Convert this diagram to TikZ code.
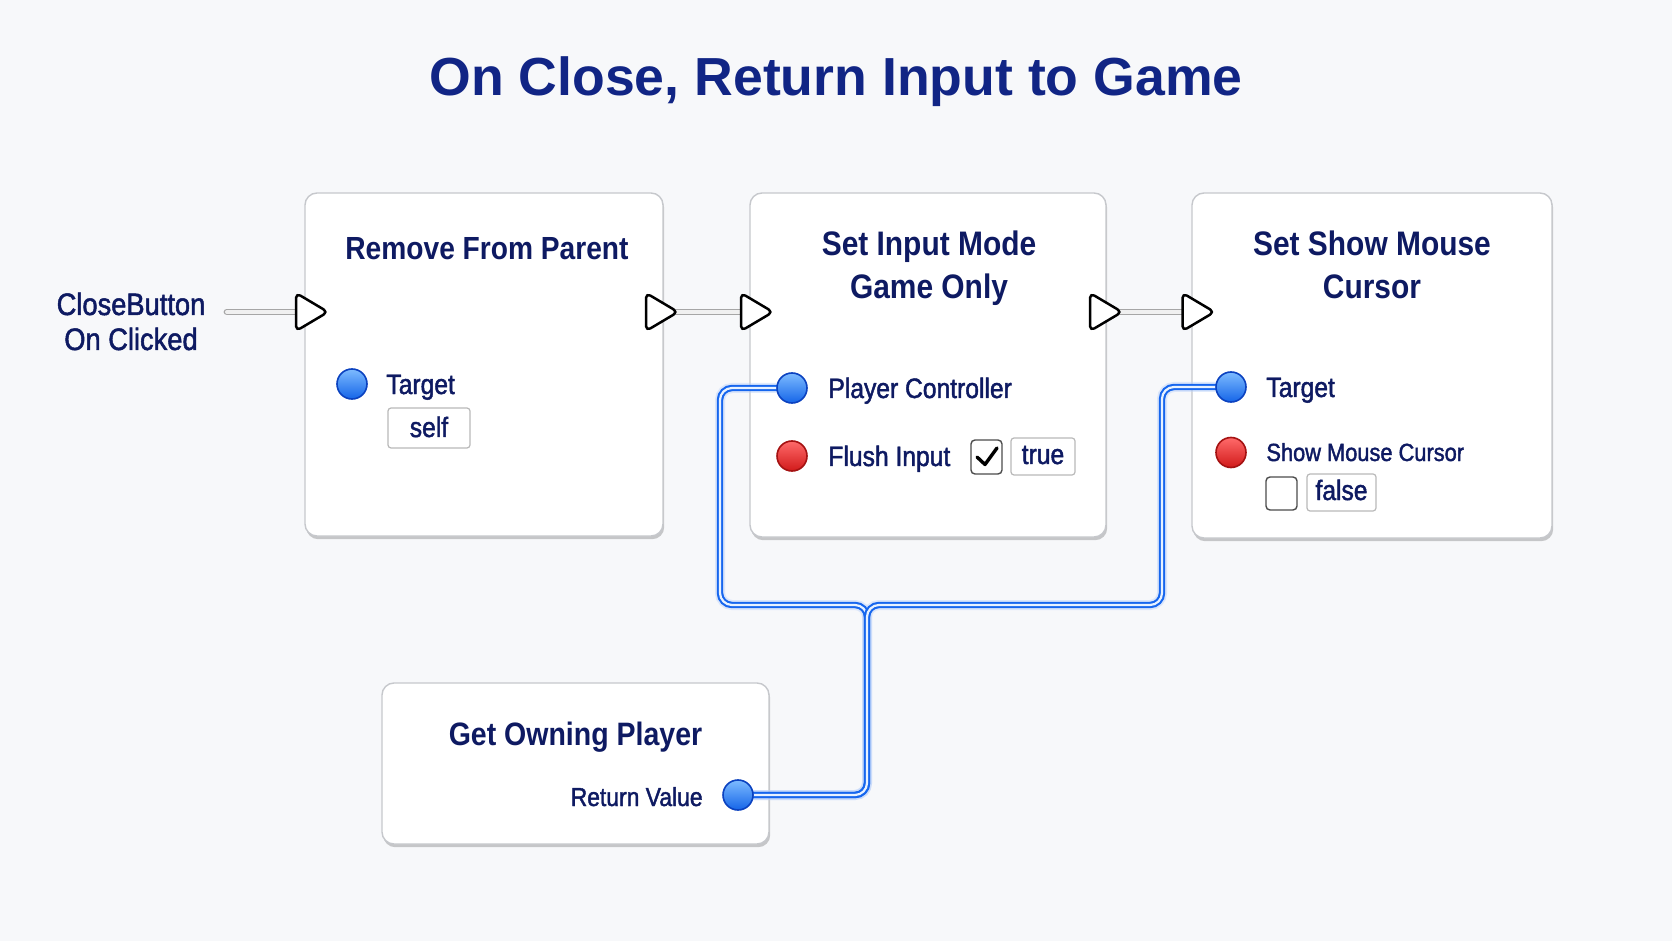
\documentclass[tikz,border=0pt]{standalone}
\usepackage{fontspec}
\setmainfont{Liberation Sans}
\newfontfamily\titlefont{Liberation Sans Bold}
\newfontfamily\hdfont[FakeStretch=0.88]{Liberation Sans Bold}
\newfontfamily\pinfont[FakeStretch=0.88,FakeBold=1.6]{Liberation Sans}
\usetikzlibrary{shadows,calc}
\pgfdeclarelayer{back}
\pgfdeclarelayer{wires}
\pgfsetlayers{back,wires,main}
\definecolor{titleblue}{HTML}{112585}
\definecolor{navy}{HTML}{0E1A62}
\definecolor{wireblue}{HTML}{1666EE}
\definecolor{wirecore}{HTML}{E8F2FF}
\definecolor{bgc}{HTML}{F7F8FA}
\definecolor{boxborder}{HTML}{C6C8CC}
\definecolor{pinbluetop}{HTML}{7DBBFF}
\definecolor{pinbluebot}{HTML}{1565E8}
\definecolor{pinblueedge}{HTML}{0B42C0}
\definecolor{pinredtop}{HTML}{FF6A6A}
\definecolor{pinredbot}{HTML}{D11A1A}
\definecolor{pinrededge}{HTML}{A51212}
\tikzset{
  execpin/.pic={\path[exectri] (-16,-19) -- (16,0) -- (-16,19) -- cycle;},
}
\begin{document}
\begin{tikzpicture}[x=0.5pt,y=-0.5pt,
  box/.style={draw=boxborder, line width=0.7pt, fill=white, rounded corners=6pt,
    drop shadow={shadow xshift=0.6pt, shadow yshift=-1.6pt, opacity=0.2, fill=black}, inner sep=0},
  hd/.style={font=\hdfont\fontsize{15.6}{18}\selectfont, text=navy, inner sep=0, anchor=base},
  hdb/.style={hd, font=\hdfont\fontsize{17}{20}\selectfont},
  pinlab/.style={font=\pinfont\fontsize{14}{17}\selectfont, text=navy, inner sep=0, anchor=base west},
  bluepin/.style={circle, minimum size=15pt, inner sep=0, draw=pinblueedge, line width=0.8pt,
    top color=pinbluetop, bottom color=pinbluebot},
  redpin/.style={circle, minimum size=15pt, inner sep=0, draw=pinrededge, line width=0.8pt,
    top color=pinredtop, bottom color=pinredbot},
  valbox/.style={draw=gray!55, line width=0.6pt, fill=white, rounded corners=1.5pt, inner sep=0},
  chkbox/.style={draw=gray!60!black, line width=0.7pt, fill=white, rounded corners=2pt, inner sep=0},
  execwire/.style={draw=gray!70, line width=0.7pt, double=gray!12, double distance=2pt, line cap=round},
  dataglow/.style={draw=wireblue!30, line width=5pt, opacity=0.45, rounded corners=6pt},
  datawire/.style={draw=wireblue, line width=1.05pt, double=wirecore, double distance=1.1pt, rounded corners=6pt},
  exectri/.style={draw=black, line width=1.25pt, fill=white, rounded corners=2.5pt, line join=round},
  check/.style={draw=black, line width=1.7pt, line cap=round, line join=round},
]
\begin{pgfonlayer}{back}
\fill[bgc] (0,0) rectangle (1672,941);
\node[box, minimum width=179pt, minimum height=171.5pt] (b1) at (484,364.5) {};
\node[box, minimum width=178pt, minimum height=172pt] (b2) at (928,365) {};
\node[box, minimum width=180pt, minimum height=172.5pt] (b3) at (1372,365.5) {};
\node[box, minimum width=193.5pt, minimum height=80.5pt] (b4) at (575.5,763.5) {};
\end{pgfonlayer}
\useasboundingbox (0,0) rectangle (1672,941);

% title
\node[font=\titlefont\fontsize{26.8}{32}\selectfont, text=titleblue, anchor=base, inner sep=0] (title) at (836,96) {On Close, Return Input to Game};

% event label
\node[font=\pinfont\fontsize{15.5}{18}\selectfont, text=navy, anchor=base, inner sep=0] (cbl1) at (131,315) {CloseButton};
\node[font=\pinfont\fontsize{15.5}{18}\selectfont, text=navy, anchor=base, inner sep=0] (cbl2) at (131,350) {On Clicked};

% headers
\node[hd, font=\hdfont\fontsize{16}{19}\selectfont] (h1) at (487,260) {Remove From Parent};
\node[hdb] (h2a) at (929,256) {Set Input Mode};
\node[hdb] (h2b) at (929,299) {Game Only};
\node[hdb] (h3a) at (1372,256) {Set Show Mouse};
\node[hdb] (h3b) at (1372,299) {Cursor};
\node[hd, font=\hdfont\fontsize{16.2}{19}\selectfont] (h4) at (575.5,745) {Get Owning Player};

% pins
\node[bluepin] (tg1) at (352,384) {};
\node[pinlab] (tg1l) at (386,394) {Target};
\node[valbox, minimum width=41pt, minimum height=20pt] (self) at (429,428) {};
\node[pinlab, anchor=base] (selft) at (429,437) {self};

\node[bluepin] (pc) at (792,388) {};
\node[pinlab] (pcl) at (828,398) {Player Controller};
\node[redpin] (fl) at (792,456) {};
\node[pinlab] (fll) at (828,466) {Flush Input};
\node[chkbox, minimum width=15.5pt, minimum height=17pt] (ck2) at (986.5,457) {};
\draw[check] ($(ck2)+(-9.5,0)$) -- ($(ck2)+(-1.5,7.5)$) -- ($(ck2)+(10.5,-9)$);
\node[valbox, minimum width=32pt, minimum height=18.5pt] (tru) at (1043,456.5) {};
\node[pinlab, anchor=base] (trut) at (1043,464) {true};

\node[bluepin] (tg3) at (1231,387) {};
\node[pinlab] (tg3l) at (1266,397) {Target};
\node[redpin] (sm) at (1231,452.5) {};
\node[pinlab, font=\pinfont\fontsize{12.4}{15}\selectfont] (sml) at (1266,461) {Show Mouse Cursor};
\node[chkbox, minimum width=15.5pt, minimum height=16.5pt] (ck3) at (1281.5,493.5) {};
\node[valbox, minimum width=34.5pt, minimum height=18.5pt] (fal) at (1341.5,492.5) {};
\node[pinlab, anchor=base] (falt) at (1341.5,500) {false};

\node[bluepin] (ret) at (738,795) {};
\node[pinlab, font=\pinfont\fontsize{13}{16}\selectfont, anchor=base east] (retl) at (703,806) {Return Value};

% exec pins
\coordinate (cbw) at (227,312);
\coordinate (e1in) at (312,312);
\coordinate (e1out) at (662,312);
\coordinate (e2in) at (757,312);
\coordinate (e2out) at (1106,312);
\coordinate (e3in) at (1198.5,312);
\foreach \p in {e1in,e1out,e2in,e2out,e3in} { \pic at (\p) {execpin}; }

% wire junction coordinates
\coordinate (j) at (867,605);
\coordinate (jl) at (720,605);
\coordinate (jr) at (1162,605);

\begin{pgfonlayer}{wires}
\draw[execwire] (cbw) -- (e1in);
\draw[execwire] (e1out) -- (e2in);
\draw[execwire] (e2out) -- (e3in);
\draw[dataglow] (ret.center) -| (j) -- (jl) |- (pc.center);
\draw[dataglow] (ret.center) -| (j) -- (jr) |- (tg3.center);
\draw[datawire] (ret.center) -| (j) -- (jl) |- (pc.center);
\draw[datawire] (ret.center) -| (j) -- (jr) |- (tg3.center);
\end{pgfonlayer}
\end{tikzpicture}
\end{document}
